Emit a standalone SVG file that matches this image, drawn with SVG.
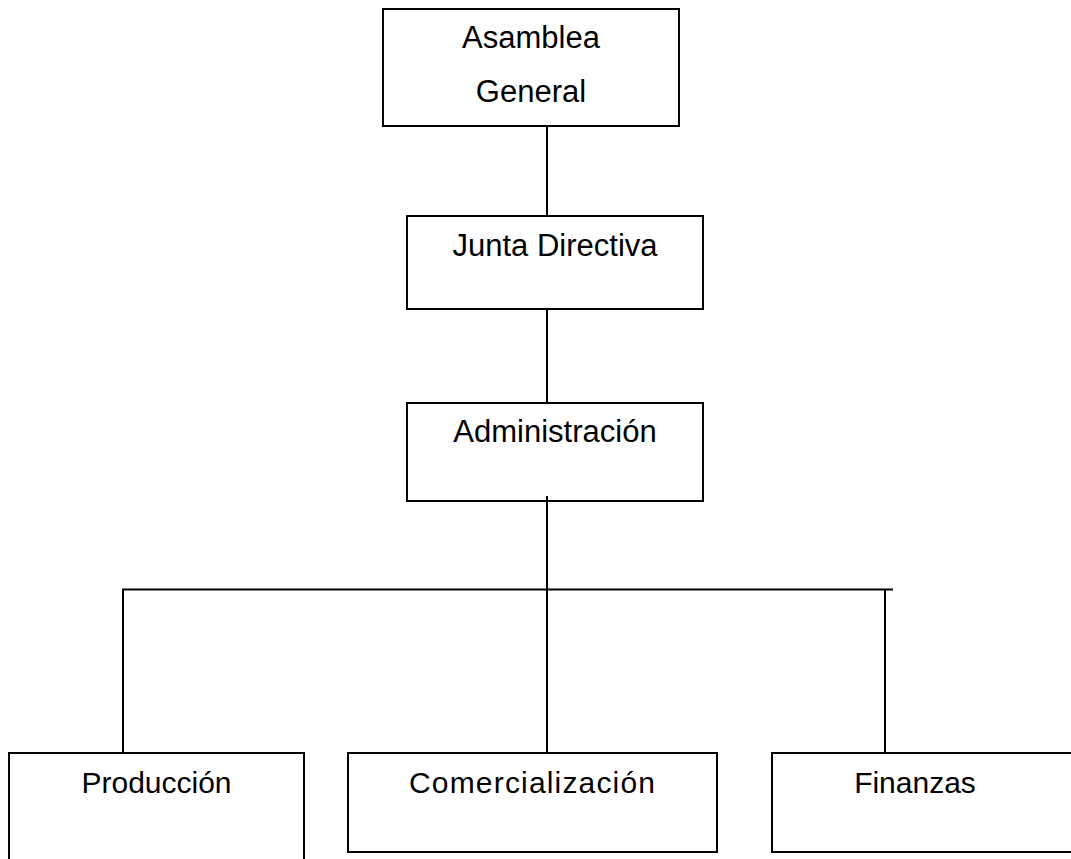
<svg xmlns="http://www.w3.org/2000/svg" width="1071" height="859" viewBox="0 0 1071 859">
<style>
rect.box{fill:#ffffff;stroke:#000000;stroke-width:2}
.conn line{stroke:#000000;stroke-width:2}
text{font-family:"Liberation Sans",Arial,sans-serif;font-size:31px;fill:#000000;text-anchor:middle}
text.sm{font-size:30px}
</style>
<rect width="1071" height="859" fill="#ffffff"/>
<g id="asamblea">
<rect class="box" x="383" y="9" width="296" height="117"/>
<text x="531" y="48">Asamblea</text>
<text x="531" y="102">General</text>
</g>
<g id="junta">
<rect class="box" x="407" y="216" width="296" height="93"/>
<text x="555" y="256">Junta Directiva</text>
</g>
<g id="administracion">
<rect class="box" x="407" y="403" width="296" height="98"/>
<text x="555" y="442">Administración</text>
</g>
<g id="produccion">
<rect class="box" x="9" y="753" width="295" height="120"/>
<text class="sm" x="156.5" y="793">Producción</text>
</g>
<g id="comercializacion">
<rect class="box" x="348" y="753" width="369" height="99"/>
<text class="sm" x="532" y="793" textLength="246">Comercialización</text>
</g>
<g id="finanzas">
<rect class="box" x="772" y="753" width="320" height="99"/>
<text class="sm" x="915" y="793">Finanzas</text>
</g>
<g id="connectors" class="conn">
<line x1="547" y1="126" x2="547" y2="216"/>
<line x1="547" y1="309" x2="547" y2="403"/>
<line x1="547" y1="496" x2="547" y2="753"/>
<line x1="122" y1="589.5" x2="893" y2="589.5"/>
<line x1="123" y1="589" x2="123" y2="753"/>
<line x1="885" y1="589" x2="885" y2="753"/>
</g>
</svg>
